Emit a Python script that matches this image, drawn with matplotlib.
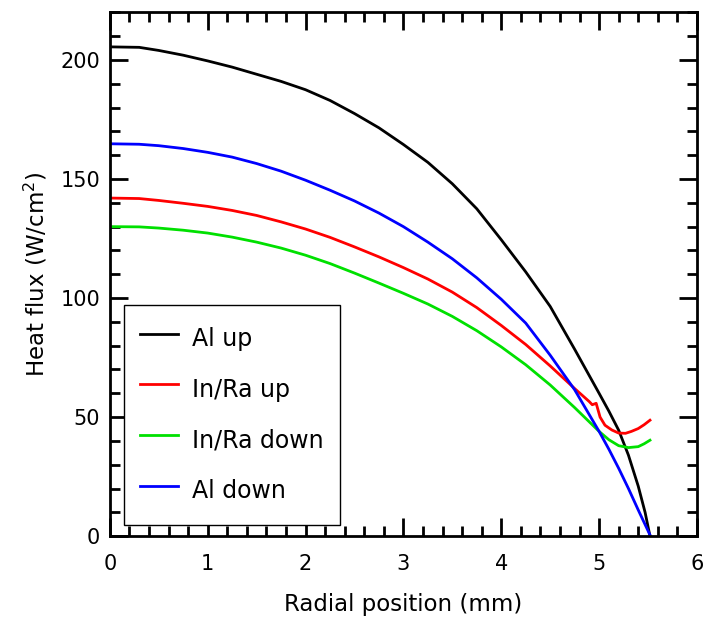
import matplotlib
matplotlib.use("Agg")
import matplotlib.pyplot as plt
from matplotlib.ticker import MultipleLocator

# Values
al_up_x = [0, 0.3, 0.5, 0.75, 1.0, 1.25, 1.5, 1.75, 2.0, 2.25, 2.5, 2.75, 3.0, 3.25,
           3.5, 3.75, 4.0, 4.25, 4.5, 4.75, 5.0, 5.1, 5.2, 5.3, 5.4, 5.47, 5.52]
al_up_y = [205.5, 205.3, 204, 202, 199.6, 197, 194, 191, 187.5, 183, 177.5, 171.5,
           164.5, 157, 148, 137.5, 124.5, 111, 96.5, 78.5, 60, 52.5, 44.5, 34, 21, 10, 0]

inra_up_x = [0, 0.3, 0.5, 0.75, 1.0, 1.25, 1.5, 1.75, 2.0, 2.25, 2.5, 2.75, 3.0, 3.25,
             3.5, 3.75, 4.0, 4.25, 4.5, 4.75, 4.9, 4.93, 4.97, 5.01, 5.06, 5.13, 5.2,
             5.27, 5.33, 5.4, 5.46, 5.52]
inra_up_y = [142, 141.8, 141, 139.8, 138.5, 136.8, 134.7, 132, 129, 125.5, 121.5, 117.3,
             112.8, 108, 102.5, 96, 88.5, 80.5, 71.5, 62, 56.5, 55.2, 55.8, 50, 46.6,
             44.6, 43.3, 43.2, 44, 45.2, 46.8, 48.7]

inra_down_x = [0, 0.3, 0.5, 0.75, 1.0, 1.25, 1.5, 1.75, 2.0, 2.25, 2.5, 2.75, 3.0, 3.25,
               3.5, 3.75, 4.0, 4.25, 4.5, 4.75, 4.9, 5.0, 5.1, 5.2, 5.3, 5.4, 5.46, 5.52]
inra_down_y = [130, 129.9, 129.4, 128.5, 127.3, 125.6, 123.5, 121, 118, 114.5, 110.5,
               106.3, 102, 97.5, 92.3, 86.3, 79.5, 72, 63.5, 54, 48, 44, 40.5, 38, 37.2,
               37.6, 38.8, 40.3]

al_down_x = [0, 0.3, 0.5, 0.75, 1.0, 1.25, 1.5, 1.75, 2.0, 2.25, 2.5, 2.75, 3.0, 3.25,
             3.5, 3.75, 4.0, 4.25, 4.5, 4.75, 5.0, 5.1, 5.2, 5.3, 5.4, 5.52]
al_down_y = [164.8, 164.6, 164, 162.8, 161.2, 159.2, 156.5, 153.3, 149.5, 145.3, 140.8,
             135.7, 130, 123.5, 116.5, 108.5, 99.5, 89.5, 76, 61.5, 44, 36.5, 28.5, 20,
             11, 0.5]

labels = ["Al up", "In/Ra up", "In/Ra down", "Al down"]
colors = ["black", "#ff0000", "#00e000", "#0000ff"]

plt.rcParams["font.family"] = "DejaVu Sans"
fig = plt.figure(figsize=(7.04, 6.17), dpi=100)
ax = fig.add_axes([0.156, 0.131, 0.834, 0.849])

series = [(al_up_x, al_up_y), (inra_up_x, inra_up_y),
          (inra_down_x, inra_down_y), (al_down_x, al_down_y)]
for (xs, ys), lab, col in zip(series, labels, colors):
    ax.plot(xs, ys, color=col, lw=2, label=lab)

ax.set_xlim(0, 6)
ax.set_ylim(0, 220)
ax.xaxis.set_major_locator(MultipleLocator(1))
ax.xaxis.set_minor_locator(MultipleLocator(0.2))
ax.yaxis.set_major_locator(MultipleLocator(50))
ax.yaxis.set_minor_locator(MultipleLocator(10))

ax.tick_params(which="both", direction="in", top=True, right=True, width=2,
               labelsize=15)
ax.tick_params(which="major", length=13)
ax.tick_params(which="minor", length=7)
ax.tick_params(axis="x", pad=12.5)
ax.tick_params(axis="y", pad=7)
for sp in ax.spines.values():
    sp.set_linewidth(2)

ax.set_xlabel("Radial position (mm)", fontsize=16.5, labelpad=14)
ax.set_ylabel("Heat flux (W/cm$^2$)", fontsize=16.5, labelpad=8)

leg = ax.legend(loc="lower left", bbox_to_anchor=(0.024, 0.021), fontsize=17,
                frameon=True, fancybox=False, edgecolor="black", framealpha=1,
                borderpad=0.68, handlelength=1.6, handleheight=2.0,
                handletextpad=0.6, labelspacing=0.6, borderaxespad=0)
leg.get_frame().set_linewidth(1)
for h in leg.get_lines():
    h.set_linewidth(2)

fig.savefig("out.png", dpi=100)
